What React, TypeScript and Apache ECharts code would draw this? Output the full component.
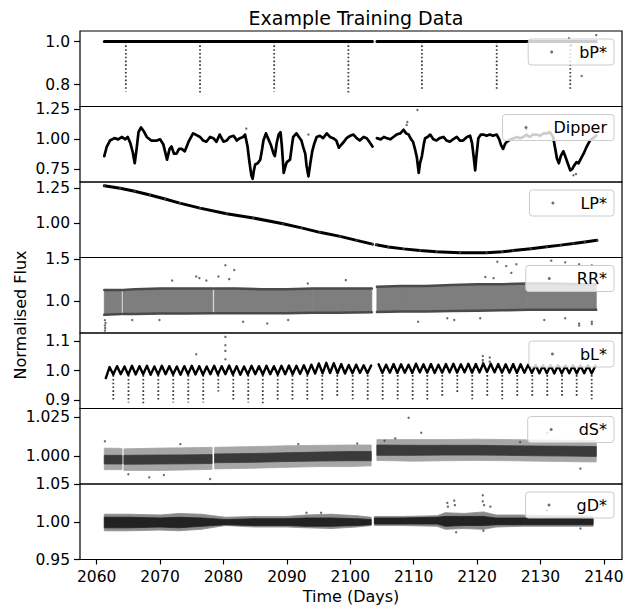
import React, { useEffect, useRef } from "react";
import * as echarts from "echarts";

const FONT = "DejaVu Sans";

// ---------- axes ----------
const timeRange = [2057.37, 2142.86];
const timeTicks = [2060, 2070, 2080, 2090, 2100, 2110, 2120, 2130, 2140];
const panelNames = ["bP*", "Dipper", "LP*", "RR*", "bL*", "dS*", "gD*"];
const fluxMin = [0.699, 0.643, 0.752, 0.61, 0.873, 0.9817, 0.95];
const fluxMax = [1.049, 1.275, 1.295, 1.524, 1.126, 1.0307, 1.05];
const fluxTicks = [
  [0.8, 1.0],
  [0.75, 1.0, 1.25],
  [1.0, 1.25],
  [1.0, 1.5],
  [0.9, 1.0, 1.1],
  [1.0, 1.025],
  [0.95, 1.0, 1.05],
];
const fluxDecimals = [1, 2, 2, 1, 1, 3, 2];

// ---------- bP* ----------
const bpBaseTime = [2061.2, 2103.5, 2103.85, 2104.2, 2138.8];
const bpBaseFlux = [1.0, 1.0, null, 1.0, 1.0];
const bpDipTime = [2064.6, 2076.3, 2088.0, 2099.7, 2111.3, 2123.1, 2134.7];
const bpDipMin = [0.769, 0.759, 0.769, 0.759, 0.777, 0.78, 0.774];
const bpDipTop = 1.0;
const bpOut = [
  [2138.8, 1.03], [2136.5, 0.84], [2134.5, 1.015], [2134.9, 0.985],
];

// ---------- Dipper ----------
const dipperCurve: [number, number | null][] = [
  [2061.2, 0.86], [2061.6, 0.94], [2062.1, 0.99], [2062.8, 1.01], [2063.4, 1.0],
  [2064.0, 1.02], [2064.5, 1.0], [2064.9, 1.02], [2065.3, 0.97], [2065.7, 0.89],
  [2066.0, 0.8], [2066.3, 0.92], [2066.6, 1.06], [2067.0, 1.1], [2067.4, 1.07],
  [2067.9, 1.02], [2068.6, 0.99], [2069.5, 0.99], [2070.0, 1.0], [2070.5, 0.96],
  [2071.1, 0.83], [2071.5, 0.92], [2071.8, 0.94], [2072.2, 0.88], [2072.6, 0.88],
  [2073.0, 0.92], [2073.4, 0.92], [2073.9, 0.9], [2074.5, 0.98], [2075.2, 1.05],
  [2075.6, 1.04], [2076.3, 1.02], [2076.8, 0.99], [2077.3, 0.98], [2077.9, 1.02],
  [2078.4, 1.01], [2078.9, 0.98], [2079.4, 1.04], [2080.0, 0.98], [2080.5, 0.99],
  [2081.0, 1.02], [2081.6, 1.03], [2082.1, 0.99], [2082.6, 1.01], [2083.1, 1.02],
  [2083.4, 1.04], [2083.8, 0.94], [2084.0, 0.85], [2084.2, 0.77], [2084.4, 0.7],
  [2084.6, 0.67], [2084.8, 0.74], [2085.0, 0.79], [2085.4, 0.8], [2085.8, 0.83],
  [2086.1, 0.92], [2086.3, 0.99], [2086.7, 1.05], [2087.1, 1.0], [2087.5, 0.95],
  [2087.9, 0.88], [2088.1, 0.86], [2088.4, 0.97], [2088.7, 1.04], [2089.0, 1.06],
  [2089.2, 0.95], [2089.4, 0.8], [2089.5, 0.72], [2089.8, 0.78], [2090.0, 0.81],
  [2090.5, 0.83], [2090.8, 0.95], [2091.0, 1.02], [2091.5, 1.05], [2091.9, 1.02],
  [2092.3, 0.99], [2092.6, 0.93], [2092.9, 0.88], [2093.1, 0.78], [2093.4, 0.69],
  [2093.7, 0.8], [2094.0, 0.9], [2094.3, 0.96], [2094.7, 1.02], [2095.2, 1.03],
  [2095.7, 1.01], [2096.3, 1.05], [2096.8, 1.02], [2097.3, 1.01], [2097.8, 0.99],
  [2098.2, 0.93], [2098.5, 0.95], [2099.0, 0.98], [2099.4, 1.01], [2100.0, 1.03],
  [2100.5, 1.04], [2101.0, 1.01], [2101.5, 0.99], [2102.1, 1.02], [2102.6, 1.01],
  [2103.0, 0.98], [2103.5, 0.94], [2103.85, null], [2104.2, 1.01], [2104.8, 1.0],
  [2105.3, 1.02], [2105.8, 1.01], [2106.3, 1.0], [2106.8, 1.02], [2107.3, 1.04],
  [2107.9, 1.05], [2108.4, 1.08], [2108.8, 1.05], [2109.2, 1.04], [2109.6, 1.0],
  [2109.9, 0.98], [2110.2, 0.92], [2110.5, 0.85], [2110.8, 0.72], [2111.0, 0.8],
  [2111.3, 0.86], [2111.6, 0.96], [2111.8, 1.01], [2112.2, 1.02], [2112.6, 1.04],
  [2113.1, 1.0], [2113.6, 0.99], [2114.1, 1.01], [2114.7, 1.02], [2115.2, 0.99],
  [2115.7, 0.98], [2116.2, 1.0], [2116.8, 1.02], [2117.3, 0.99], [2117.8, 0.99],
  [2118.4, 1.02], [2118.9, 1.03], [2119.2, 0.97], [2119.5, 0.84], [2119.7, 0.74],
  [2119.9, 0.86], [2120.2, 1.01], [2120.6, 1.04], [2121.0, 1.04], [2121.5, 1.03],
  [2122.0, 1.04], [2122.5, 1.03], [2123.1, 1.04], [2123.5, 1.0], [2123.8, 0.95],
  [2124.1, 0.92], [2124.4, 0.96], [2124.7, 0.98], [2125.3, 1.0], [2125.8, 1.01],
  [2126.3, 1.02], [2126.8, 1.01], [2127.3, 1.02], [2127.8, 1.04], [2128.3, 1.02],
  [2128.8, 1.04], [2129.4, 1.04], [2129.9, 1.03], [2130.5, 1.05], [2131.0, 1.05],
  [2131.5, 1.06], [2132.0, 1.02], [2132.3, 0.93], [2132.6, 0.84], [2132.9, 0.8],
  [2133.2, 0.86], [2133.6, 0.9], [2133.9, 0.86], [2134.3, 0.8], [2134.7, 0.74],
  [2135.0, 0.75], [2135.3, 0.78], [2135.7, 0.81], [2136.0, 0.8], [2136.4, 0.84],
  [2136.8, 0.88], [2137.3, 0.94], [2137.8, 0.99], [2138.3, 1.01], [2138.8, 1.03],
];
const dipperOut = [
  [2110.6, 1.245], [2109.0, 1.145], [2108.9, 1.12], [2083.6, 1.09], [2093.4, 1.04],
  [2127.8, 1.08], [2084.7, 0.64], [2135.2, 0.7], [2135.6, 0.71],
];

// ---------- LP* ----------
const lpCurve: [number, number | null][] = [
  [2061.2, 1.268], [2063.7, 1.25], [2066.0, 1.228], [2068.4, 1.202], [2070.8, 1.173],
  [2073.1, 1.143], [2076.3, 1.107], [2080.5, 1.066], [2084.7, 1.036], [2089.4, 0.995],
  [2092.3, 0.965], [2095.2, 0.933], [2098.4, 0.904], [2101.0, 0.875], [2103.5, 0.848],
  [2103.8, null], [2104.1, 0.843], [2106.0, 0.828], [2108.4, 0.814], [2111.0, 0.802],
  [2113.6, 0.793], [2117.3, 0.786], [2121.5, 0.786], [2124.0, 0.793], [2125.7, 0.802],
  [2128.5, 0.815], [2131.0, 0.829], [2133.2, 0.841], [2135.2, 0.852], [2137.0, 0.864],
  [2138.9, 0.876],
];

// ---------- RR* ----------
const rrTime = [2061.2, 2063.9, 2064.15, 2066.0, 2070.0, 2074.0, 2078.3, 2078.55, 2082.0, 2086.0,
  2090.0, 2094.0, 2098.0, 2103.4, 2104.2, 2108.0, 2112.0, 2116.0, 2120.0, 2124.0, 2128.0, 2132.0,
  2136.0, 2138.8];
const rrSeg = [0, 0, 1, 1, 1, 1, 1, 2, 2, 2, 2, 2, 2, 2, 3, 3, 3, 3, 3, 3, 3, 3, 3, 3];
const rrHigh = [1.13, 1.13, 1.13, 1.14, 1.15, 1.15, 1.15, 1.15, 1.15, 1.14, 1.14, 1.15, 1.15, 1.15,
  1.17, 1.18, 1.18, 1.19, 1.2, 1.2, 1.21, 1.21, 1.2, 1.2];
const rrLow = [0.83, 0.84, 0.84, 0.84, 0.845, 0.845, 0.85, 0.85, 0.85, 0.85, 0.85, 0.855, 0.855, 0.86,
  0.865, 0.87, 0.87, 0.875, 0.88, 0.885, 0.89, 0.89, 0.89, 0.89];
const rrOut = [
  [2061.3, 0.64], [2061.35, 0.67], [2061.3, 0.7], [2061.4, 0.73], [2061.3, 0.765],
  [2071.9, 1.245], [2075.7, 1.295], [2076.2, 1.274], [2077.3, 1.245], [2079.2, 1.295],
  [2080.3, 1.431], [2081.7, 1.372], [2080.9, 1.262], [2093.3, 1.21], [2099.3, 1.25],
  [2123.2, 1.473], [2124.6, 1.42], [2126.2, 1.443], [2125.4, 1.338], [2131.7, 1.486],
  [2133.9, 1.465], [2136.1, 1.443], [2138.1, 1.431], [2121.3, 1.287], [2122.6, 1.274],
  [2065.6, 0.767], [2069.9, 0.767], [2083.1, 0.746], [2086.9, 0.725], [2090.2, 0.767],
  [2110.7, 0.746], [2115.3, 0.788], [2116.4, 0.767], [2120.5, 0.788], [2130.6, 0.767],
  [2133.9, 0.788], [2136.1, 0.725], [2138.1, 0.746], [2136.1, 0.7], [2138.1, 0.72],
];

// ---------- bL* ----------
const blStart = 2061.44;
const blStep = 0.5895;
const blWiggle: (number | null)[] = [
  0.975, 1.012, 0.987, 1.015, 0.988, 1.014, 0.986, 1.016, 0.987, 1.015,
  0.988, 1.016, 0.986, 1.014, 0.987, 1.016, 0.988, 1.015, 0.987, 1.014,
  0.986, 1.015, 0.988, 1.016, 0.987, 1.015, 0.986, 1.014, 0.988, 1.016,
  0.987, 1.015, 0.988, 1.017, 0.987, 1.015, 0.986, 1.014, 0.987, 1.016,
  0.988, 1.015, 0.987, 1.016, 0.988, 1.015, 0.987, 1.016, 0.988, 1.017,
  0.988, 1.016, 0.989, 1.018, 0.989, 1.02, 0.99, 1.024, 0.991, 1.026,
  0.992, 1.025, 0.991, 1.022, 0.99, 1.019, 0.991, 1.02, 0.992, 1.018,
  0.991, 1.017, null, 1.021, 0.992, 1.02, 0.993, 1.022, 0.992, 1.021,
  0.993, 1.02, 0.992, 1.023, 0.994, 1.021, 0.993, 1.022, 0.992, 1.02,
  0.993, 1.022, 0.994, 1.023, 0.993, 1.021, 0.994, 1.023, 0.993, 1.022,
  0.994, 1.024, 0.995, 1.023, 0.994, 1.022, 0.993, 1.021, 0.993, 1.022,
  0.992, 1.021, 0.993, 1.02, 0.992, 1.019, 0.991, 1.018, 0.991, 1.018,
  0.99, 1.018, 0.99, 1.017, 0.991, 1.018, 0.99, 1.017, 0.991, 1.018,
  0.99, 1.016,
];
const blDipTime = [2062.62, 2065.02, 2067.35, 2069.72, 2072.08, 2074.45, 2076.81, 2079.18,
  2081.55, 2083.91, 2086.2, 2088.55, 2090.88, 2093.22, 2095.58, 2097.95, 2100.38, 2102.75,
  2105.11, 2107.48, 2109.84, 2112.15, 2114.51, 2116.88, 2119.24, 2121.61, 2123.97, 2126.34,
  2128.71, 2131.07, 2133.4, 2135.71, 2138.08];
const blDipMin = [0.896, 0.893, 0.89, 0.896, 0.893, 0.893, 0.893, 0.93, 0.898, 0.893, 0.89,
  0.896, 0.898, 0.896, 0.898, 0.909, 0.904, 0.898, 0.898, 0.904, 0.898, 0.898, 0.909, 0.926,
  0.904, 0.909, 0.904, 0.915, 0.915, 0.915, 0.915, 0.915, 0.904];
const blDipTop = 0.985;
const blOut = [
  [2080.3, 1.113], [2080.3, 1.085], [2080.3, 1.066], [2080.3, 1.038], [2075.7, 1.055],
  [2120.9, 1.049], [2120.9, 1.035], [2120.9, 1.027], [2122.0, 1.044], [2122.0, 1.03],
];

// ---------- dS* ----------
const dsTime = [2061.2, 2064.0, 2064.3, 2070.0, 2074.0, 2078.2, 2078.6, 2085.0, 2090.0, 2095.0,
  2100.0, 2103.3, 2104.2, 2110.0, 2115.0, 2120.0, 2125.0, 2130.0, 2135.0, 2138.8];
const dsSeg = [0, 0, 1, 1, 1, 1, 2, 2, 2, 2, 2, 2, 3, 3, 3, 3, 3, 3, 3, 3];
const dsOuterHi = [1.005, 1.0048, 1.0045, 1.005, 1.0052, 1.0055, 1.0055, 1.006, 1.0065, 1.0068,
  1.007, 1.007, 1.0105, 1.0105, 1.0105, 1.0108, 1.0105, 1.0102, 1.01, 1.0098];
const dsOuterLo = [0.991, 0.991, 0.9905, 0.9905, 0.9908, 0.9912, 0.9915, 0.992, 0.9925, 0.993,
  0.993, 0.9935, 0.997, 0.9965, 0.9968, 0.997, 0.9968, 0.9965, 0.9962, 0.996];
const dsCoreHi = [1.0003, 1.0003, 1.0003, 1.0005, 1.0006, 1.0008, 1.0012, 1.0015, 1.002, 1.0024,
  1.0028, 1.0028, 1.007, 1.0068, 1.0068, 1.0068, 1.0065, 1.0063, 1.0062, 1.006];
const dsCoreLo = [0.9947, 0.9947, 0.9945, 0.9947, 0.9948, 0.995, 0.9955, 0.9958, 0.9963, 0.9966,
  0.9968, 0.9968, 1.0003, 1.0003, 1.0005, 1.0005, 1.0003, 1.0, 0.9998, 0.9996];
const dsOut = [
  [2109.2, 1.0247], [2061.3, 1.0094], [2077.9, 0.985], [2068.3, 0.986], [2111.2, 1.015],
  [2131.1, 1.015], [2136.3, 0.9917], [2073.2, 1.0076], [2091.8, 1.0076], [2101.1, 1.008],
  [2107.1, 1.0113], [2105.4, 1.0098], [2126.8, 1.009], [2065.0, 0.988], [2070.6, 0.9875],
];

// ---------- gD* ----------
const gdTime = [2061.2, 2065.0, 2070.0, 2073.0, 2076.5, 2080.3, 2085.0, 2090.0, 2093.0, 2097.0,
  2101.0, 2103.3, 2103.8, 2108.0, 2113.7, 2115.0, 2118.0, 2121.0, 2123.0, 2127.0, 2132.0, 2136.0,
  2138.3];
const gdSeg = [0, 0, 0, 0, 0, 0, 0, 0, 0, 0, 0, 0, 1, 1, 1, 1, 1, 1, 1, 1, 1, 1, 1];
const gdOuterHi = [1.01, 1.01, 1.009, 1.011, 1.01, 1.006, 1.007, 1.007, 1.009, 1.01, 1.008, 1.006,
  1.007, 1.007, 1.008, 1.012, 1.011, 1.013, 1.009, 1.009, 1.008, 1.008, 1.007];
const gdOuterLo = [0.988, 0.988, 0.989, 0.988, 0.99, 0.995, 0.993, 0.993, 0.992, 0.991, 0.993,
  0.995, 0.995, 0.995, 0.994, 0.99, 0.991, 0.99, 0.993, 0.994, 0.994, 0.994, 0.994];
const gdCoreHi = [1.006, 1.006, 1.005, 1.006, 1.005, 1.003, 1.004, 1.004, 1.005, 1.005, 1.004,
  1.003, 1.005, 1.005, 1.006, 1.007, 1.007, 1.007, 1.005, 1.005, 1.005, 1.005, 1.004];
const gdCoreLo = [0.992, 0.992, 0.993, 0.992, 0.994, 0.996, 0.995, 0.995, 0.994, 0.994, 0.995,
  0.996, 0.997, 0.997, 0.997, 0.994, 0.995, 0.995, 0.996, 0.996, 0.996, 0.996, 0.996];
const gdOut = [
  [2120.9, 1.035], [2120.9, 1.027], [2121.1, 1.022], [2115.3, 1.025], [2115.4, 1.02],
  [2116.4, 1.028], [2116.5, 1.022], [2116.7, 0.986], [2122.1, 1.02], [2095.4, 1.012],
  [2093.1, 1.012], [2136.3, 0.991], [2121.0, 0.988], [2131.0, 1.015],
];

// ---------- layout (pixels) ----------
const GRID_LEFT = 80;
const GRID_W = 542;
const PANEL_H = 75.5;
const panelTops = [31, 106.5, 182, 257.5, 333, 408.5, 484];
const DOT = "#4a4a4a";
const TICK_FONT = 15.5;

function pairs(times: number[], vals: (number | null)[]) {
  return times.map((t, i) => [t, vals[i]]);
}

function segLine(times: number[], seg: number[], vals: number[]) {
  const out: any[] = [];
  times.forEach((t, i) => {
    if (i > 0 && seg[i] !== seg[i - 1]) out.push([(t + times[i - 1]) / 2, null]);
    out.push([t, vals[i]]);
  });
  return out;
}

function lineSeries(i: number, data: any[], width: number, color = "#000") {
  return {
    type: "line",
    xAxisIndex: i,
    yAxisIndex: i,
    data,
    showSymbol: false,
    symbol: "none",
    connectNulls: false,
    silent: true,
    lineStyle: { width, color, join: "round", cap: "round" },
    z: 2,
  };
}

function scatterSeries(i: number, name: string, data: any[]) {
  return {
    type: "scatter",
    name,
    xAxisIndex: i,
    yAxisIndex: i,
    data,
    symbolSize: 2.4,
    itemStyle: { color: DOT },
    silent: true,
    z: 3,
  };
}

function bandSeries(i: number, times: number[], seg: number[], lo: number[], hi: number[], color: string) {
  return {
    type: "custom",
    xAxisIndex: i,
    yAxisIndex: i,
    silent: true,
    clip: true,
    z: 1,
    data: times.map((t, k) => [t, lo[k], hi[k], seg[k]]),
    encode: { x: 0, y: [1, 2] },
    renderItem: (params: any, api: any) => {
      const k = params.dataIndex;
      if (k >= times.length - 1 || seg[k] !== seg[k + 1]) return null;
      const a = api.coord([times[k], hi[k]]);
      const b = api.coord([times[k + 1], hi[k + 1]]);
      const c = api.coord([times[k + 1], lo[k + 1]]);
      const d = api.coord([times[k], lo[k]]);
      return {
        type: "polygon",
        shape: { points: [a, b, c, d] },
        style: { fill: color, stroke: color, lineWidth: 0.8 },
      };
    },
  };
}

function dipSeries(i: number, times: number[], mins: number[], top: number) {
  return {
    type: "custom",
    xAxisIndex: i,
    yAxisIndex: i,
    silent: true,
    clip: true,
    z: 2,
    data: times.map((t, k) => [t, mins[k]]),
    encode: { x: 0, y: 1 },
    renderItem: (params: any, api: any) => {
      const t = api.value(0);
      const m = api.value(1);
      const p1 = api.coord([t, top]);
      const p2 = api.coord([t, m]);
      return {
        type: "line",
        shape: { x1: p1[0], y1: p1[1], x2: p2[0], y2: p2[1] },
        style: { stroke: "#3a3a3a", lineWidth: 1.8, lineDash: [1.6, 2.2] },
      };
    },
  };
}

function buildOption() {
  const grids = panelTops.map((top) => ({
    left: GRID_LEFT,
    top,
    width: GRID_W,
    height: PANEL_H,
    show: true,
    borderColor: "#000",
    borderWidth: 1.2,
    backgroundColor: "rgba(0,0,0,0)",
  }));

  const xAxes = panelTops.map((_, i) => {
    const last = i === panelTops.length - 1;
    return {
      type: "value",
      gridIndex: i,
      min: timeRange[0],
      max: timeRange[1],
      splitLine: { show: false },
      axisLine: { show: false },
      axisTick: last
        ? { show: true, customValues: timeTicks, length: 5, lineStyle: { color: "#000", width: 1.2 } }
        : { show: false },
      axisLabel: last
        ? {
            show: true,
            customValues: timeTicks,
            formatter: (v: number) => String(Math.round(v)),
            fontSize: TICK_FONT,
            fontFamily: FONT,
            color: "#000",
            margin: 9,
          }
        : { show: false },
      name: last ? "Time (Days)" : "",
      nameLocation: "middle",
      nameGap: 29,
      nameTextStyle: { fontSize: 16, fontFamily: FONT, color: "#000" },
    };
  });

  const yAxes = panelTops.map((_, i) => ({
    type: "value",
    gridIndex: i,
    min: fluxMin[i],
    max: fluxMax[i],
    splitLine: { show: false },
    axisLine: { show: false },
    axisTick: { show: true, customValues: fluxTicks[i], length: 6, lineStyle: { color: "#000", width: 1.2 } },
    axisLabel: {
      show: true,
      customValues: fluxTicks[i],
      formatter: (v: number) => v.toFixed(fluxDecimals[i]),
      fontSize: TICK_FONT,
      lineHeight: 15,
      fontFamily: FONT,
      color: "#000",
      margin: 10,
    },
  }));

  const legends = panelNames.map((name, i) => ({
    data: [{ name, icon: "circle" }],
    right: 28,
    top: panelTops[i] + 8,
    orient: "horizontal",
    padding: [5, 7, 5, 22],
    itemWidth: 3,
    itemHeight: 3,
    selectedMode: false,
    backgroundColor: "rgba(255,255,255,0.8)",
    borderColor: "#cccccc",
    borderWidth: 1,
    borderRadius: 3,
    formatter: "{g| }{n|{name}}",
    textStyle: {
      color: "#000",
      rich: {
        g: { width: 21, fontSize: 16, fontFamily: FONT, lineHeight: 19 },
        n: { fontSize: 16, fontFamily: FONT, color: "#000", lineHeight: 19 },
      },
    },
    z: 10,
  }));

  const series: any[] = [
    // bP*
    lineSeries(0, pairs(bpBaseTime, bpBaseFlux), 3),
    dipSeries(0, bpDipTime, bpDipMin, bpDipTop),
    scatterSeries(0, "bP*", bpOut),
    // Dipper
    lineSeries(1, dipperCurve, 2.7),
    scatterSeries(1, "Dipper", dipperOut),
    // LP*
    lineSeries(2, lpCurve, 3),
    scatterSeries(2, "LP*", lpCurve.filter((p) => p[1] !== null)),
    // RR*
    bandSeries(3, rrTime, rrSeg, rrLow, rrHigh, "#7e7e7e"),
    lineSeries(3, segLine(rrTime, rrSeg, rrHigh), 2.5, "#4a4a4a"),
    lineSeries(3, segLine(rrTime, rrSeg, rrLow), 2.5, "#4a4a4a"),
    scatterSeries(3, "RR*", rrOut),
    // bL*
    lineSeries(4, blWiggle.map((v, k) => [blStart + k * blStep, v]), 2.4),
    dipSeries(4, blDipTime, blDipMin, blDipTop),
    scatterSeries(4, "bL*", blOut),
    // dS*
    bandSeries(5, dsTime, dsSeg, dsOuterLo, dsOuterHi, "#a6a6a6"),
    bandSeries(5, dsTime, dsSeg, dsCoreLo, dsCoreHi, "#3a3a3a"),
    scatterSeries(5, "dS*", dsOut),
    // gD*
    bandSeries(6, gdTime, gdSeg, gdOuterLo, gdOuterHi, "#8a8a8a"),
    bandSeries(6, gdTime, gdSeg, gdCoreLo, gdCoreHi, "#222222"),
    scatterSeries(6, "gD*", gdOut),
  ];

  return {
    animation: false,
    backgroundColor: "#fff",
    textStyle: { fontFamily: FONT },
    title: {
      text: "Example Training Data",
      left: GRID_LEFT + GRID_W / 2,
      top: 3,
      textAlign: "center",
      textStyle: { fontSize: 19, fontWeight: "normal", fontFamily: FONT, color: "#000" },
    },
    graphic: [
      {
        type: "text",
        x: 20,
        y: 315,
        rotation: Math.PI / 2,
        style: {
          text: "Normalised Flux",
          fontSize: 16,
          fontFamily: FONT,
          fill: "#000",
          align: "center",
          verticalAlign: "middle",
          textAlign: "center",
          textVerticalAlign: "middle",
        },
      },
    ],
    legend: legends,
    grid: grids,
    xAxis: xAxes,
    yAxis: yAxes,
    series,
  };
}

export default function App() {
  const ref = useRef<HTMLDivElement>(null);
  useEffect(() => {
    if (!ref.current) return;
    const chart = echarts.init(ref.current, undefined, { renderer: "svg" });
    chart.setOption(buildOption() as any);
    return () => chart.dispose();
  }, []);
  return (
    <div
      ref={ref}
      style={{ position: "absolute", left: 0, top: 0, width: 642, height: 609, background: "#fff" }}
    />
  );
}
